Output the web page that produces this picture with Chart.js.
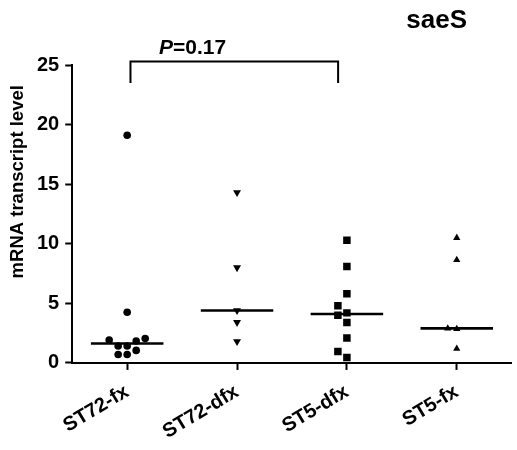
<!DOCTYPE html>
<html>
<head>
<meta charset="utf-8">
<script src="https://cdn.jsdelivr.net/npm/chart.js@4.4.1/dist/chart.umd.min.js"></script>
<style>
  html, body { margin: 0; padding: 0; background: #fff; }
  #wrap { width: 517px; height: 450px; position: relative; }
</style>
</head>
<body>
<div id="wrap"><canvas id="chart"></canvas></div>
<script>
// values
const groups = ['ST72-fx', 'ST72-dfx', 'ST5-dfx', 'ST5-fx'];
const st72fx = [19.1, 4.25, 2.04, 1.93, 1.84, 1.42, 1.42, 1.05, 0.71, 0.71];
const st72dfx = [14.3, 8.0, 4.4, 3.4, 1.8];
const st5dfx = [10.3, 8.1, 5.8, 4.8, 4.2, 4.0, 3.4, 2.1, 0.95, 0.45];
const st5fx = [10.5, 8.65, 2.9, 2.85, 1.2];
const yTicks = [0, 5, 10, 15, 20, 25];
const chartTitle = 'saeS';
const yTitle = 'mRNA transcript level';
const pValue = '=0.17';

const FONT = "'Liberation Sans', Arial, sans-serif";

function median(vals) {
  const s = vals.slice().sort((a, b) => a - b);
  const m = Math.floor(s.length / 2);
  return s.length % 2 ? s[m] : (s[m - 1] + s[m]) / 2;
}

// simple beeswarm so overlapping dots get spread sideways
function swarm(vals, center) {
  const placed = [];
  const step = 0.082, pxX = 110, pxY = 11.76, minDist = 8;
  vals.slice().sort((a, b) => a - b).forEach(v => {
    for (let k = 0; k < 30; k++) {
      const off = k === 0 ? 0 : (k % 2 ? -1 : 1) * Math.ceil(k / 2) * step;
      const ok = placed.every(p => Math.hypot((p.x - center - off) * pxX, (p.y - v) * pxY) >= minDist);
      if (ok) { placed.push({ x: center + off, y: v }); break; }
    }
  });
  return placed;
}

const series = [st72fx, st72dfx, st5dfx, st5fx];
const markers = [
  { pointStyle: 'circle', radius: 3.8, rotation: 0 },
  { pointStyle: 'triangle', radius: 4.6, rotation: 180 },
  { pointStyle: 'rect', radius: 5.3, rotation: 0 },
  { pointStyle: 'triangle', radius: 4.2, rotation: 0 }
];

const datasets = [];
series.forEach((vals, i) => {
  datasets.push({
    type: 'scatter',
    data: swarm(vals, i + 1),
    pointStyle: markers[i].pointStyle,
    pointRadius: markers[i].radius,
    rotation: markers[i].rotation,
    backgroundColor: '#000',
    borderColor: '#000',
    borderWidth: 0
  });
  const m = median(vals);
  datasets.push({
    type: 'line',
    data: [{ x: i + 1 - 0.33, y: m }, { x: i + 1 + 0.33, y: m }],
    borderColor: '#000',
    borderWidth: 2.6,
    pointRadius: 0
  });
});

const annot = {
  id: 'annot',
  afterDraw(chart) {
    const { ctx, scales: { x, y }, chartArea } = chart;
    ctx.save();
    // significance bracket
    const x1 = x.getPixelForValue(1.03), x2 = x.getPixelForValue(2.92);
    const yTop = y.getPixelForValue(25.3), yBot = y.getPixelForValue(23.5);
    ctx.strokeStyle = '#000';
    ctx.lineWidth = 2;
    ctx.beginPath();
    ctx.moveTo(x1, yBot);
    ctx.lineTo(x1, yTop);
    ctx.lineTo(x2, yTop);
    ctx.lineTo(x2, yBot);
    ctx.stroke();
    // P value
    ctx.fillStyle = '#000';
    ctx.textBaseline = 'alphabetic';
    ctx.textAlign = 'left';
    const px = x.getPixelForValue(1.29);
    ctx.font = 'italic bold 21px ' + FONT;
    ctx.fillText('P', px, yTop - 7);
    const w = ctx.measureText('P').width;
    ctx.font = 'bold 21px ' + FONT;
    ctx.fillText(pValue, px + w, yTop - 7);
    // panel title
    ctx.font = 'bold 26px ' + FONT;
    ctx.textAlign = 'center';
    ctx.fillText(chartTitle, chartArea.right - 75, 28);
    // y axis title, sits a bit above the middle of the axis like the original
    ctx.translate(18, y.getPixelForValue(15.2));
    ctx.rotate(-Math.PI / 2);
    ctx.textBaseline = 'middle';
    ctx.font = 'bold 18.5px ' + FONT;
    ctx.fillText(yTitle, 0, 0);
    ctx.restore();
  }
};

new Chart(document.getElementById('chart'), {
  data: { datasets },
  options: {
    responsive: true,
    maintainAspectRatio: false,
    animation: false,
    layout: { padding: { top: 65, right: 4, left: 31, bottom: -4 } },
    plugins: { legend: { display: false }, tooltip: { enabled: false } },
    scales: {
      x: {
        type: 'linear',
        min: 0.5,
        max: 4.5,
        afterBuildTicks: s => { s.ticks = groups.map((g, i) => ({ value: i + 1 })); },
        ticks: {
          callback: v => groups[v - 1],
          maxRotation: 31,
          minRotation: 31,
          color: '#000',
          padding: 10,
          font: { family: FONT, size: 20, weight: 'bold' }
        },
        grid: { drawOnChartArea: false, drawTicks: true, tickLength: 7, tickColor: '#000', tickWidth: 2 },
        border: { color: '#000', width: 2 }
      },
      y: {
        min: 0,
        max: 25,
        afterBuildTicks: s => { s.ticks = yTicks.map(v => ({ value: v })); },
        ticks: {
          color: '#000',
          padding: 6,
          font: { family: FONT, size: 20, weight: 'bold' }
        },
        grid: { drawOnChartArea: false, drawTicks: true, tickLength: 7, tickColor: '#000', tickWidth: 2 },
        border: { color: '#000', width: 2 }
      }
    }
  },
  plugins: [annot]
});
</script>
</body>
</html>
